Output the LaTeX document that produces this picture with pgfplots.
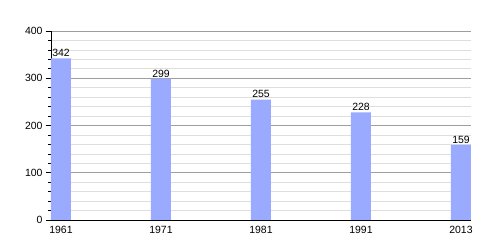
\documentclass[border=0pt]{standalone}
\usepackage{pgfplots}
\pgfplotsset{compat=1.18}
\usepackage{fontspec}
\setmainfont{Liberation Sans}
\usetikzlibrary{calc}
\definecolor{barblue}{RGB}{153,170,255}
\begin{document}
\begin{tikzpicture}
\begin{axis}[
  scale only axis,
  width=420bp, height=189bp,
  xmin=-0.1, xmax=4.1,
  ymin=0, ymax=400,
  axis x line*=bottom, axis y line*=left,
  axis line style={black, line width=0.8pt, -},
  xtick={0,1,2,3,4},
  xticklabels={1961,1971,1981,1991,2013},
  xtick style={draw=none},
  ytick={0,100,200,300,400},
  minor y tick num=4,
  ymajorgrids, yminorgrids,
  major grid style={draw=black!38, line width=0.6pt},
  minor grid style={draw=black!13, line width=0.6pt},
  tick align=outside,
  major tick length=5bp, minor tick length=3bp,
  ytick style={black, line width=0.6pt},
  every tick label/.append style={font=\fontsize{10.5}{12}\selectfont},
  xticklabel style={yshift=2bp},
  /pgf/number format/assume math mode=true,
  ybar, bar width=20bp, bar shift=0pt,
  nodes near coords,
  every node near coord/.append style={font=\fontsize{10.5}{12}\selectfont, black, yshift=-2bp},
  clip=false,
]
\addplot[fill=barblue, draw=none] coordinates {(0,342) (1,299) (2,255) (3,228) (4,159)};
\end{axis}
\pgfresetboundingbox
\path ($(current axis.south west)+(-51bp,-30bp)$) rectangle ($(current axis.north east)+(29bp,31bp)$);
\end{tikzpicture}
\end{document}
